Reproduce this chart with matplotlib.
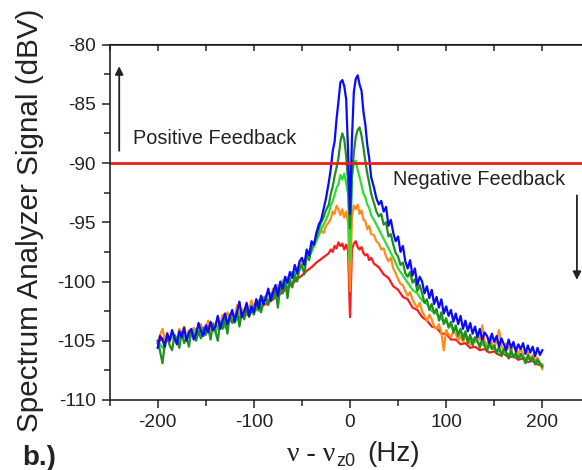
import numpy as np
import matplotlib
matplotlib.use("Agg")
import matplotlib.pyplot as plt
from matplotlib.ticker import MultipleLocator

plt.rcParams['font.family'] = ['Liberation Sans', 'DejaVu Sans']
plt.rcParams['axes.unicode_minus'] = False

# frequency grids (Hz)
freq_center = np.arange(-22, 23, 2)
freq_fine = np.concatenate([np.arange(-200, -24.9, 2.5), freq_center, np.arange(25, 200.1, 2.5)])
freq_coarse = np.concatenate([np.arange(-200, -24, 5), freq_center, np.arange(25, 201, 5)])

# ---- blue (fine grid) ----
blue_left = [-105.6, -104.6, -104.9, -105.5, -104.4, -105.0, -104.1, -104.8, -105.3, -104.2,
             -104.7, -103.9, -105.0, -104.3, -104.0, -104.9, -104.4, -103.5, -104.2, -104.6,
             -103.7, -104.3, -103.4, -104.1, -103.8, -102.9, -104.0, -103.3, -102.7, -103.6,
             -103.0, -102.4, -103.4, -102.6, -101.7, -103.0, -102.5, -101.8, -102.9, -102.1,
             -102.6, -101.5, -102.3, -101.2, -101.9, -101.4, -100.6, -101.6, -100.9, -100.3,
             -101.2, -100.0, -100.6, -99.6, -100.1, -99.2, -99.7, -98.6, -99.3, -98.3,
             -98.0, -98.6, -97.3, -97.8, -96.6, -96.9, -95.9, -95.2, -94.8, -93.9,
             -93.0]
blue_center = [-91.6, -90.5, -89.0, -88.2, -86.3, -84.8, -83.2, -83.0, -83.5, -84.6, -89.0, -94.3,
               -88.0, -84.0, -82.9, -82.6, -83.4, -83.9, -85.7, -86.8, -88.5, -89.6, -91.2]
blue_right = [-92.1, -93.0, -93.5, -93.2, -94.1, -93.7, -95.3, -94.8, -95.9, -96.6,
              -96.2, -97.5, -97.0, -98.3, -98.9, -98.2, -99.5, -98.9, -100.3, -99.6,
              -100.0, -101.0, -100.4, -101.4, -100.7, -101.9, -101.3, -102.2, -101.5, -102.7,
              -102.1, -102.9, -102.4, -103.4, -102.7, -103.6, -102.9, -104.0, -103.3, -104.2,
              -103.5, -104.4, -103.8, -104.7, -104.0, -104.9, -104.3, -104.6, -105.2, -104.4,
              -105.1, -104.6, -105.5, -104.8, -105.3, -105.8, -104.9, -105.6, -105.1, -105.9,
              -105.3, -105.7, -105.2, -106.1, -105.4, -106.0, -105.5, -106.3, -105.6, -106.2,
              -105.8]

# ---- dark green (fine grid) ----
dgreen_left = [-105.0, -105.9, -106.9, -105.2, -104.6, -105.4, -105.8, -104.5, -104.9, -105.6,
               -104.3, -105.2, -104.7, -105.5, -104.1, -104.6, -105.0, -104.2, -104.8, -103.9,
               -104.5, -103.8, -104.9, -103.6, -104.2, -105.0, -103.4, -104.0, -103.2, -104.4,
               -102.8, -103.5, -103.0, -102.5, -103.8, -102.6, -103.2, -102.2, -103.0, -102.4,
               -102.8, -102.0, -101.6, -102.6, -101.7, -101.2, -102.0, -101.0, -101.5, -100.7,
               -102.2, -100.4, -101.0, -100.0, -101.4, -99.8, -100.5, -99.4, -100.0, -98.9,
               -98.6, -99.4, -97.8, -98.2, -97.2, -96.8, -96.3, -95.6, -95.0, -94.6,
               -94.0]
dgreen_center = [-93.5, -92.6, -92.0, -91.1, -90.4, -89.6, -88.2, -87.5, -88.0, -89.4, -91.6, -95.5,
                 -91.2, -89.1, -87.8, -87.2, -87.0, -87.7, -88.7, -89.9, -90.9, -91.7, -92.6]
dgreen_right = [-93.4, -94.1, -94.5, -94.3, -95.2, -95.0, -96.2, -96.0, -96.9, -97.6,
                -97.9, -98.6, -98.4, -99.3, -99.6, -99.2, -100.1, -99.8, -100.8, -100.3,
                -101.0, -101.8, -101.5, -102.4, -101.9, -102.7, -102.3, -103.3, -102.6, -103.6,
                -103.1, -103.9, -103.4, -104.3, -103.7, -104.6, -104.0, -104.9, -104.2, -105.2,
                -104.5, -105.4, -104.7, -105.0, -105.6, -104.8, -105.4, -105.9, -105.1, -105.7,
                -105.4, -106.1, -105.5, -106.3, -105.7, -106.0, -106.5, -105.8, -106.4, -106.0,
                -106.6, -106.1, -106.4, -106.9, -106.2, -106.7, -106.4, -107.0, -106.6, -106.9,
                -107.2]

# ---- orange (fine grid) ----
orange_left = [-105.2, -104.5, -104.0, -104.9, -104.3, -105.1, -104.2, -104.6, -104.9, -104.0,
               -104.4, -103.8, -104.7, -104.1, -104.5, -103.9, -104.6, -104.0, -103.6, -104.3,
               -104.0, -103.3, -104.1, -103.5, -103.8, -103.0, -103.7, -102.8, -103.5, -102.6,
               -103.1, -102.5, -103.3, -102.0, -102.8, -102.3, -102.7, -101.9, -102.4, -101.6,
               -102.3, -101.5, -102.0, -101.2, -101.7, -101.4, -100.8, -101.5, -100.6, -101.0,
               -100.3, -100.7, -99.9, -100.4, -99.6, -99.9, -99.2, -99.5, -98.8, -98.9,
               -98.3, -98.6, -97.7, -97.9, -97.1, -97.0, -96.5, -96.1, -95.7, -95.9,
               -95.3]
orange_center = [-95.0, -94.7, -94.1, -94.3, -93.6, -93.9, -94.4, -93.9, -94.6, -94.1, -95.0, -100.8,
                 -94.6, -93.6, -93.9, -93.5, -94.3, -94.0, -94.8, -94.9, -95.6, -95.3, -96.0]
orange_right = [-96.1, -96.6, -96.8, -97.3, -97.2, -97.9, -98.3, -98.0, -98.9, -99.3,
                -99.8, -100.2, -100.3, -100.8, -101.2, -100.9, -101.5, -101.9, -102.2, -101.8,
                -102.5, -102.9, -103.3, -102.8, -103.2, -103.8, -104.0, -103.6, -104.3, -105.8,
                -104.1, -104.5, -104.7, -104.2, -104.4, -105.0, -104.6, -105.1, -104.7, -104.9,
                -105.3, -104.8, -105.1, -104.6, -104.9, -103.7, -105.0, -105.4, -104.7, -105.2,
                -105.6, -105.0, -104.1, -105.5, -105.8, -105.2, -105.6, -105.9, -105.4, -105.8,
                -106.1, -105.6, -106.3, -105.9, -106.0, -106.5, -106.2, -106.7, -106.4, -106.9,
                -107.4]

# ---- light green (coarse grid) ----
light_green = [-105.0, -105.6, -104.8, -104.6, -105.2, -104.3, -104.8, -104.6, -104.0, -104.7, -104.2, -103.7,
               -104.3, -103.4, -103.9, -103.0, -103.5, -102.7, -102.9, -102.4, -102.0, -102.5, -101.3, -101.8,
               -100.9, -101.0, -100.0, -100.3, -99.2, -99.4, -98.7, -98.0, -97.5, -96.6, -95.6, -94.8,
               -94.2, -93.6, -93.2, -92.7, -92.1, -91.8, -91.0, -91.4, -90.9, -91.7, -92.6, -98.3,
               -91.1, -90.0, -89.8, -90.6, -91.2, -91.9, -92.6, -92.9, -93.5, -93.8, -94.4,
               -94.8, -95.6, -96.4, -97.2, -98.0, -98.9, -99.5, -100.1, -100.7, -101.0, -101.6, -101.9,
               -102.5, -102.7, -103.2, -103.4, -103.8, -104.1, -104.3, -104.6, -104.8, -105.0, -105.2, -105.4,
               -105.5, -105.7, -105.8, -106.0, -106.1, -106.2, -106.3, -106.4, -106.5, -106.6, -106.8, -107.0]

# ---- red (coarse grid) ----
red = [-105.2, -104.8, -105.0, -104.7, -104.9, -104.5, -104.7, -104.3, -104.5, -104.1, -104.2, -103.9,
       -103.9, -103.6, -103.6, -103.3, -103.3, -103.0, -102.9, -102.7, -102.5, -102.3, -102.0, -101.8,
       -101.5, -101.2, -100.9, -100.5, -100.2, -99.8, -99.5, -99.1, -98.8, -98.4, -98.1, -97.8,
       -97.6, -97.3, -97.5, -97.0, -97.2, -96.7, -97.0, -96.8, -97.3, -96.9, -97.4, -103.0,
       -97.3, -96.8, -96.6, -97.1, -97.3, -97.1, -97.6, -97.8, -97.7, -98.2, -98.0,
       -98.5, -98.8, -99.4, -99.7, -100.4, -100.7, -101.3, -101.5, -102.2, -102.4, -103.0, -103.3,
       -103.8, -103.9, -104.4, -104.4, -104.9, -104.9, -105.3, -105.2, -105.6, -105.5, -105.8, -105.7,
       -106.0, -105.9, -106.2, -106.1, -106.4, -106.3, -106.6, -106.5, -106.8, -106.7, -107.0, -107.1]

blue = blue_left + blue_center + blue_right
dark_green = dgreen_left + dgreen_center + dgreen_right
orange = orange_left + orange_center + orange_right

threshold = -90
x_ticks = [-200, -100, 0, 100, 200]
y_ticks = [-110, -105, -100, -95, -90, -85, -80]

W, H = 582, 470
fig = plt.figure(figsize=(W / 100, H / 100), dpi=100)
ax = fig.add_axes([109.6 / W, 1 - 400 / H, 480.8 / W, 355.5 / H])

series = [(freq_coarse, red, '#ff1a1a'), (freq_fine, orange, '#ff8c1a'),
          (freq_coarse, light_green, '#2ede2e'), (freq_fine, dark_green, '#1f8f1f'),
          (freq_fine, blue, '#0a0aff')]
for fx, vals, col in series:
    ax.plot(fx, vals, color=col, lw=1.6)

ax.axhline(threshold, color='#ee1c1c', lw=2.0)

ax.set_xlim(-250, 250)
ax.set_ylim(-110, -80)
ax.set_xticks(x_ticks)
ax.set_yticks(y_ticks)
ax.xaxis.set_minor_locator(MultipleLocator(50))
ax.yaxis.set_minor_locator(MultipleLocator(2.5))
ax.tick_params(which='both', direction='out', labelsize=13.8, width=1.1, colors='#222222', pad=4)
ax.tick_params(which='major', length=6)
ax.tick_params(which='minor', length=4)
for s in ax.spines.values():
    s.set_linewidth(1.2)
    s.set_color('#222222')

top = ax.secondary_xaxis('top')
top.set_xticks(x_ticks)
top.xaxis.set_minor_locator(MultipleLocator(50))
top.tick_params(which='both', direction='in', length=5, width=1.1, labelsize=0, colors='#222222')
top.set_xticklabels([])

# annotations
ax.annotate('', xy=(-240, -81.6), xytext=(-240, -89.2),
            arrowprops=dict(arrowstyle='-|>', color='#222222', lw=1.3, mutation_scale=12))
ax.annotate('', xy=(236, -100.1), xytext=(236, -92.5),
            arrowprops=dict(arrowstyle='-|>', color='#222222', lw=1.3, mutation_scale=12))
ax.text(-226, -87.9, 'Positive Feedback', fontsize=14.3, va='center', ha='left', color='#222222')
ax.text(44.5, -91.4, 'Negative Feedback', fontsize=14.3, va='center', ha='left', color='#222222')

# axis labels
fig.text(30 / W, 1 - 220 / H, 'Spectrum Analyzer Signal (dBV)', rotation=90, fontsize=21.3,
         ha='center', va='center', color='#222222')
fig.text(335 / W, 1 - 461 / H, 'ν - ν', family=['Liberation Serif'], fontsize=20,
         ha='right', va='baseline', color='#222222')
fig.text(336 / W, 1 - 466 / H, 'z0', fontsize=13, ha='left', va='baseline', color='#222222')
fig.text(367 / W, 1 - 461 / H, '(Hz)', fontsize=20, ha='left', va='baseline', color='#222222')
fig.text(22 / W, 1 - 465 / H, 'b.)', fontsize=20, fontweight='bold', ha='left', va='baseline',
         color='#222222')

fig.savefig('out.png', dpi=100)
